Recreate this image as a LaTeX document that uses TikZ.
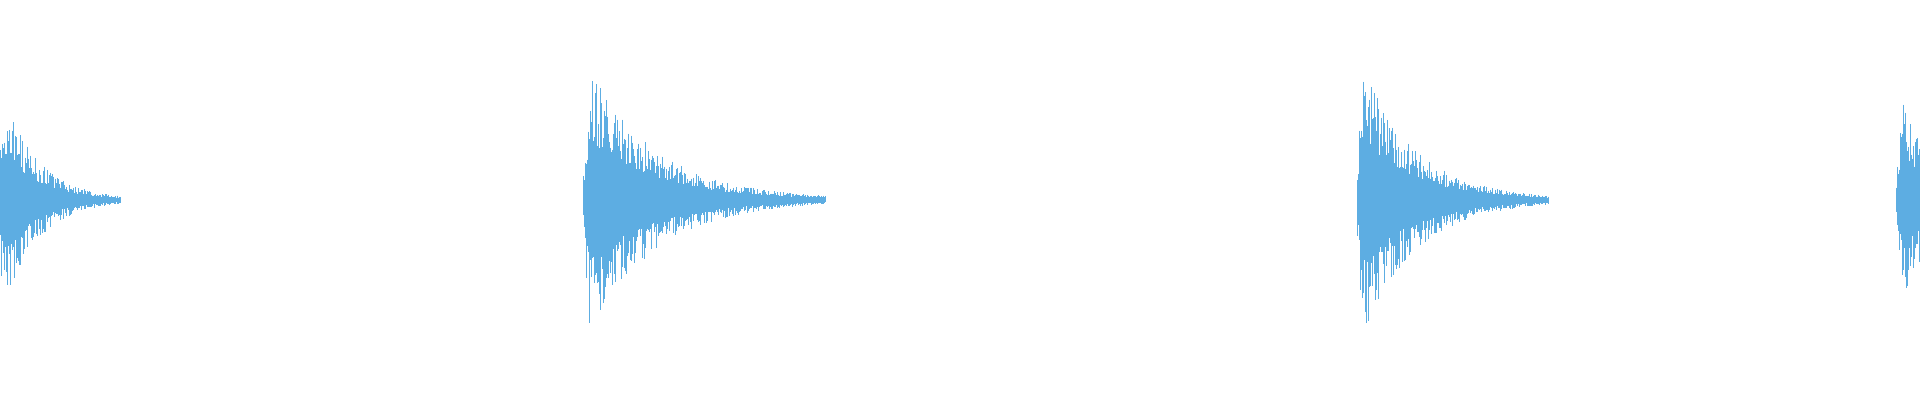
\documentclass[tikz,border=0pt]{standalone}
\definecolor{wave}{RGB}{93,173,226}
\begin{document}
\begin{tikzpicture}[x=1pt,y=1pt,wv/.style={draw=wave,line width=0.6pt}]
\useasboundingbox (0,0) rectangle (1920,400);
\pgfmathsetseed{42}
\foreach \s/\L/\A/\a in {-5/125/135/10, 583/242/145/8, 1357/192/150/6, 1896/120/125/8}{
  \foreach \x in {0,0.6,...,\L}{
    \pgfmathsetmacro{\env}{\A*min(1,(\x+1)/\a)*exp(-3.6*\x/\L)}
    \pgfmathsetmacro{\ht}{\env*(0.45+0.55*rnd^2)+0.5}
    \pgfmathsetmacro{\hb}{\env*(0.45+0.55*rnd^2)+0.5}
    \draw[wv] (\s+\x,200+\ht) -- (\s+\x,200-\hb);
  }
}
\end{tikzpicture}
\end{document}
